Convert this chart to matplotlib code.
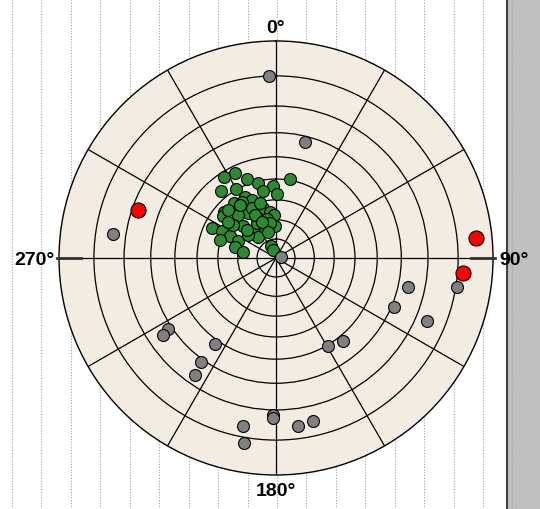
import numpy as np
import matplotlib
matplotlib.use("Agg")
import matplotlib.pyplot as plt

# azimuth (deg, clockwise from north) and angle from centre (deg)
grey_az = [357.8, 14.0, 278.5, 99.2, 102.5, 112.6, 112.7, 141.0, 149.3,
           236.5, 235.7, 215.1, 215.5, 214.8, 181.2, 181.0, 191.1, 189.7,
           172.4, 167.2, 82.0]
grey_ang = [80.1, 57.8, 74.3, 80.3, 63.8, 61.2, 74.0, 52.3, 50.6,
            61.6, 64.4, 51.9, 61.2, 66.5, 71.7, 72.8, 76.7, 81.8,
            76.0, 75.3, 2.6]

red_az = [289.3, 84.4, 94.7]
red_ang = [67.9, 85.5, 81.8]

green_az = [334.3, 327.1, 339.6, 346.8, 9.9, 357.9, 320.6, 349.3, 1.2, 329.6,
            333.2, 337.3, 322.7, 345.2, 311.8, 308.4, 352.6, 328.2, 357.3, 318.8,
            334.4, 346.5, 314.7, 295.2, 296.4, 321.0, 339.7, 358.2, 320.3, 295.6,
            294.7, 287.8, 285.4, 279.7, 337.4, 337.6, 307.7, 333.9, 330.9, 309.7,
            307.3, 350.2, 328.6, 343.7, 334.0, 338.7, 314.0, 325.8, 315.0, 342.9]
green_ang = [47.2, 47.7, 42.4, 39.3, 40.5, 36.8, 43.6, 35.0, 32.8, 40.3,
             35.2, 32.4, 35.2, 27.0, 35.5, 34.9, 24.3, 27.3, 22.5, 29.6,
             23.3, 20.8, 24.0, 36.3, 31.3, 18.9, 16.6, 16.8, 14.6, 26.5,
             21.7, 30.4, 22.2, 17.7, 6.9, 4.6, 28.0, 28.7, 20.8, 18.9,
             30.9, 18.5, 33.8, 29.5, 24.9, 20.2, 21.1, 33.0, 34.8, 14.3]

ring_deg = [10, 20, 30, 40, 50, 60, 70, 80]
spoke_deg = [0, 30, 60, 90, 120, 150, 180, 210, 240, 270, 300, 330]
compass = {0: '0°', 90: '90°', 180: '180°', 270: '270°'}


def stereo(a):
    # stereographic distance, 90 deg -> 1
    return np.tan(np.radians(np.asarray(a)) / 2)


fig = plt.figure(figsize=(5.4, 5.09), dpi=100)
fig.patch.set_facecolor('white')

# background with dotted verticals and grey strip on the right
bg = fig.add_axes([0, 0, 1, 1])
bg.set_xlim(0, 540)
bg.set_ylim(0, 509)
bg.axis('off')
bg.add_patch(plt.Rectangle((507, 0), 33, 509, color='#c0c0c0', zorder=0))
bg.axvline(506.5, color='#404040', lw=1.5, zorder=1)
for x in np.arange(12, 540, 29.44):
    bg.axvline(x, color='#a0a0a0', lw=0.8, ls=(0, (1, 1.5)), zorder=2)

ax = fig.add_axes([0.1093, 0.0668, 0.8037, 0.8527], projection='polar')
ax.set_aspect('auto')
ax.set_facecolor('#f2ece2')
ax.set_theta_zero_location('N')
ax.set_theta_direction(-1)
ax.set_ylim(0, 1)
ax.set_yticks(stereo(ring_deg))
ax.set_yticklabels([])
ax.set_thetagrids(spoke_deg, [''] * len(spoke_deg))
ax.grid(True, color='black', lw=0.9, ls='-')
ax.spines['polar'].set_color('black')
ax.spines['polar'].set_linewidth(1.0)

# compass labels
fnt = dict(fontsize=14, fontweight='bold', family=['Liberation Sans', 'DejaVu Sans'])
offs = {0: ((0, 5.8), 'center', 'baseline'),
        90: ((4.3, -5.2), 'left', 'baseline'),
        180: ((0, -5.5), 'center', 'top'),
        270: ((-3.0, -5.2), 'right', 'baseline')}
for t, lab in compass.items():
    xy, ha, va = offs[t]
    ax.annotate(lab, (np.radians(t), 1), xytext=xy, textcoords='offset points',
                ha=ha, va=va, annotation_clip=False, **fnt)

# short heavier marks at E and W
for t in [90, 270]:
    ax.plot([np.radians(t)] * 2, [0.9, 1.01], color='#333333', lw=2,
            clip_on=False, zorder=3)

ax.plot(np.radians(green_az), stereo(green_ang), 'o', ms=8.6,
        mfc='#2e8a30', mec='black', mew=0.8, zorder=4)
ax.plot(np.radians(grey_az), stereo(grey_ang), 'o', ms=8.6,
        mfc='#808080', mec='black', mew=0.8, zorder=5)
ax.plot(np.radians(red_az), stereo(red_ang), 'o', ms=10.8,
        mfc='#ff0000', mec='black', mew=0.8, zorder=6)

fig.savefig('out.png', dpi=100)
